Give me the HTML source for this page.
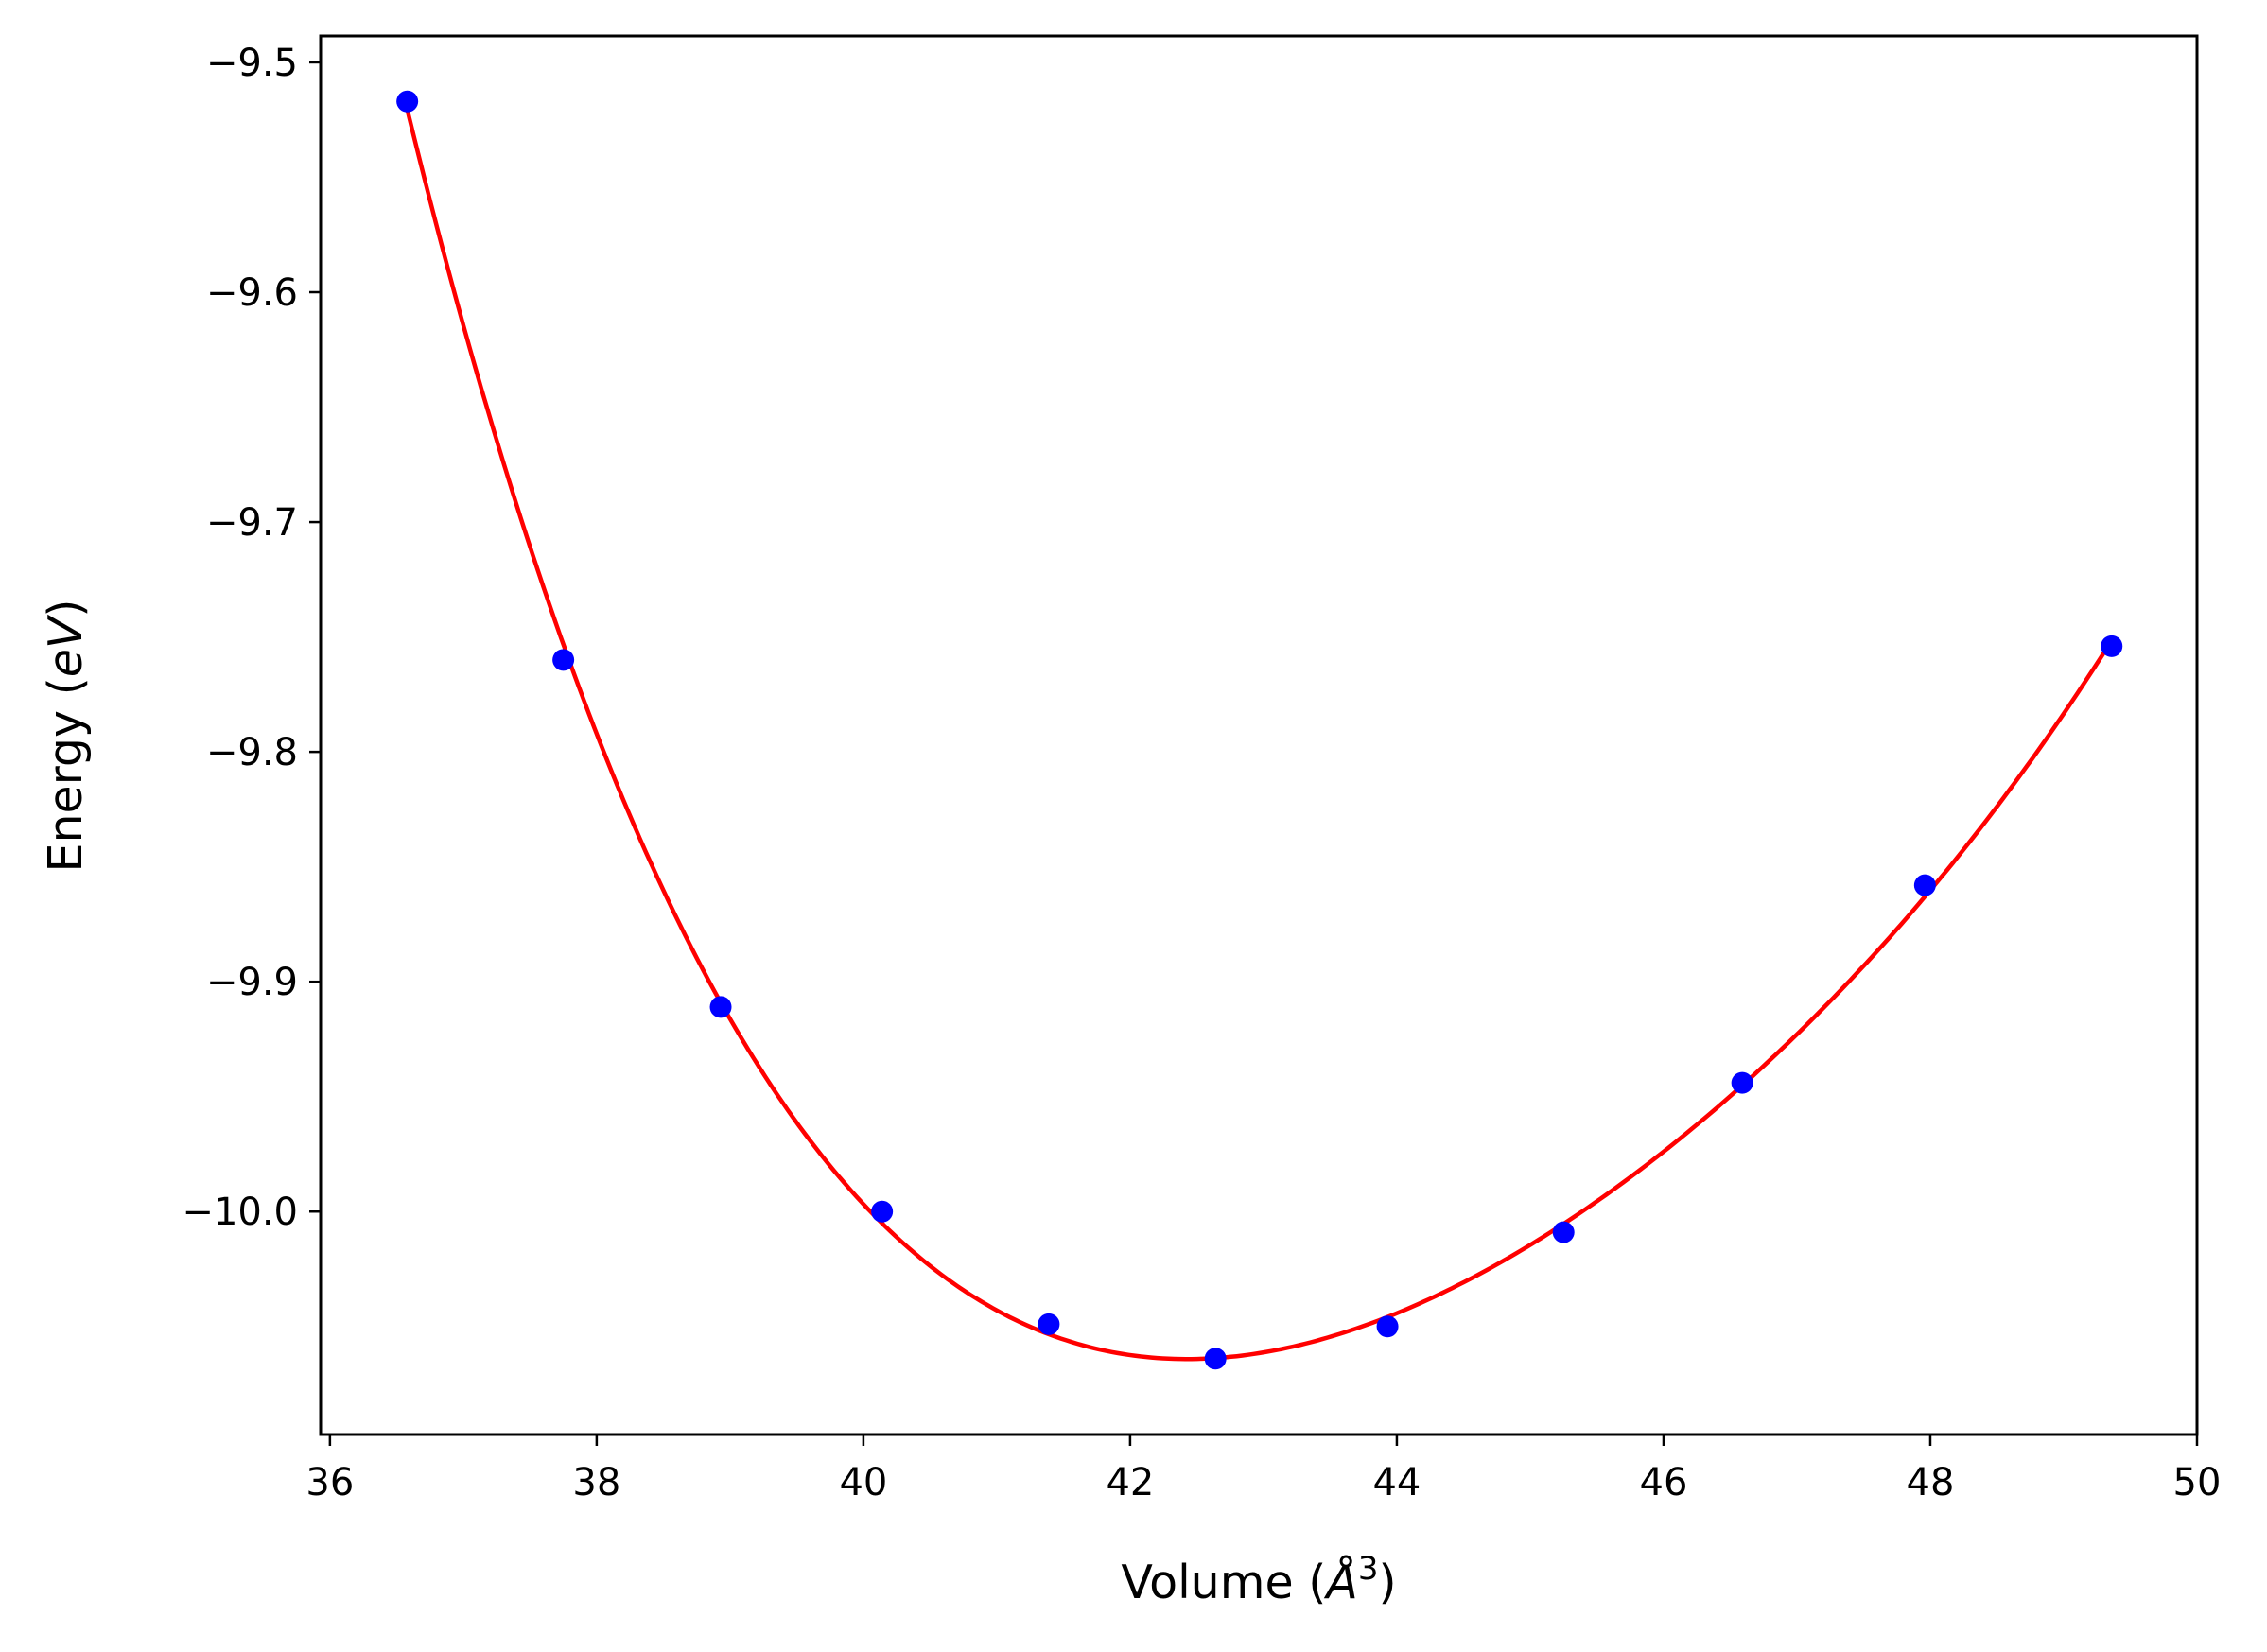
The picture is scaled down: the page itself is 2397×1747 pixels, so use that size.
<!DOCTYPE html>
<html><head><meta charset="utf-8"><style>
html,body{margin:0;padding:0;background:#fff;}
svg{display:block;font-family:"DejaVu Sans","Liberation Sans",sans-serif;}
</style></head><body>
<svg id="chart" width="2397" height="1747" xmlns="http://www.w3.org/2000/svg">
<rect width="2397" height="1747" fill="#fff"/>
<g id="plot"></g>
<text x="1331" y="1690" font-size="49" text-anchor="middle">Volume (<tspan font-style="italic">Å</tspan><tspan font-size="34" dy="-20">3</tspan><tspan dy="20">)</tspan></text>
<text transform="translate(86,778) rotate(-90)" font-size="49" text-anchor="middle">Energy (<tspan font-style="italic">eV</tspan>)</text>
</svg>
<script>
const volumes = [36.58, 37.75, 38.93, 40.14, 41.39, 42.64, 43.93, 45.25, 46.59, 47.96, 49.36];
const energies = [-9.517, -9.760, -9.911, -10.000, -10.049, -10.064, -10.050, -10.009, -9.944, -9.858, -9.754];
const xTicks = [36, 38, 40, 42, 44, 46, 48, 50];
const yTicks = [-9.5, -9.6, -9.7, -9.8, -9.9, -10.0];
const yTickLabels = ["\u22129.5", "\u22129.6", "\u22129.7", "\u22129.8", "\u22129.9", "\u221210.0"];

const L = 339, R = 2323, T = 38, B = 1517;
const xMin = 35.93, xMax = 50.0, yMin = -10.097, yMax = -9.4885;
const sx = v => L + (v - xMin) / (xMax - xMin) * (R - L);
const sy = v => B - (v - yMin) / (yMax - yMin) * (B - T);
const NS = "http://www.w3.org/2000/svg";
const g = document.getElementById('plot');
function mk(tag, attrs) { const e = document.createElementNS(NS, tag); for (const k in attrs) e.setAttribute(k, attrs[k]); g.appendChild(e); return e; }

// least-squares polynomial fit of E(V)
function fit(xs, ys, deg) {
  const n = deg + 1, A = [], b = [];
  const x0 = 43, s = 6;
  for (let i = 0; i < n; i++) { A.push(new Array(n).fill(0)); b.push(0); }
  xs.forEach((x, k) => { const t = (x - x0) / s; for (let i = 0; i < n; i++) { b[i] += ys[k] * Math.pow(t, i); for (let j = 0; j < n; j++) A[i][j] += Math.pow(t, i + j); } });
  for (let i = 0; i < n; i++) { for (let r = i + 1; r < n; r++) { const f = A[r][i] / A[i][i]; for (let c = i; c < n; c++) A[r][c] -= f * A[i][c]; b[r] -= f * b[i]; } }
  const c = new Array(n).fill(0);
  for (let i = n - 1; i >= 0; i--) { let t = b[i]; for (let j = i + 1; j < n; j++) t -= A[i][j] * c[j]; c[i] = t / A[i][i]; }
  return v => c.reduce((a, ci, i) => a + ci * Math.pow((v - x0) / s, i), 0);
}
const f = fit(volumes, energies, 4);
const vLo = Math.min(...volumes), vHi = Math.max(...volumes);
let d = "";
for (let i = 0; i <= 300; i++) { const v = vLo + (vHi - vLo) * i / 300; d += (i ? "L" : "M") + sx(v).toFixed(1) + "," + sy(f(v)).toFixed(1); }
const curve = mk('path', { d: d, fill: 'none', stroke: '#ff0000', 'stroke-width': 4.5 });



volumes.forEach((v, i) => {
  const c = mk('circle', { cx: sx(v), cy: sy(energies[i]), r: 11.5, fill: '#0000ff' });
  
  
});

const frame = mk('rect', { x: L, y: T, width: R - L, height: B - T, fill: 'none', stroke: '#000', 'stroke-width': 3 });



xTicks.forEach(t => {
  const x = sx(t);
  const ln = mk('line', { x1: x, x2: x, y1: B, y2: B + 12, stroke: '#000', 'stroke-width': 2.5 });
  
  
  const tx = mk('text', { x: x, y: B + 64, 'font-size': 40, 'text-anchor': 'middle' });
  tx.textContent = String(t);
  
  
});
yTicks.forEach((t, i) => {
  const y = sy(t);
  const ln = mk('line', { x1: L - 12, x2: L, y1: y, y2: y, stroke: '#000', 'stroke-width': 2.5 });
  
  
  const tx = mk('text', { x: L - 24, y: y + 14, 'font-size': 40, 'text-anchor': 'end' });
  tx.textContent = yTickLabels[i];
  
  
});
</script>
</body></html>
